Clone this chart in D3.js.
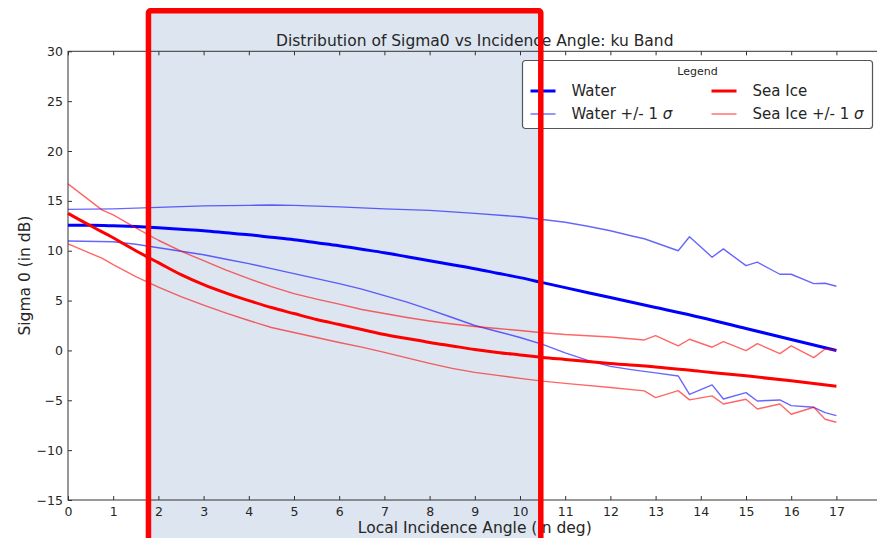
<!doctype html>
<html>
  <head>
    <meta charset="utf-8">
    <script src="https://d3js.org/d3.v7.min.js"></script>
    <style>
      body { margin: 0; background: #fff; }
      svg { display: block; font-family: "DejaVu Sans", sans-serif; }
      .tick text { fill: #262626; font-size: 12.5px; }
      .tick line { stroke: #333; }
    </style>
  </head>
  <body>
    <script>
    // values: [angle, sigma0]
    var waterMean = [[0,12.55],[0.5,12.55],[1,12.5],[1.5,12.42],[2,12.3],[2.5,12.15],[3,12.0],[3.5,11.8],[4,11.6],
      [4.5,11.35],[5,11.1],[5.5,10.8],[6,10.5],[6.5,10.15],[7,9.8],[7.5,9.4],[8,9.0],[8.5,8.6],[9,8.2],[9.5,7.75],
      [10,7.3],[10.5,6.8],[11,6.3],[12,5.3],[13,4.3],[14,3.3],[15,2.2],[16,1.1],[17,0.0]];
    var waterUpper = [[0,14.15],[1,14.2],[2,14.35],[3,14.5],[4,14.55],[4.5,14.58],[5,14.55],[6,14.4],[7,14.2],[8,14.05],
      [9,13.75],[10,13.4],[10.5,13.13],[11,12.85],[11.5,12.45],[12,12.0],[12.5,11.45],[12.75,11.2],[13,10.8],
      [13.5,10.0],[13.75,11.4],[14.25,9.35],[14.5,10.18],[15,8.5],[15.25,8.85],[15.75,7.64],[16,7.64],
      [16.5,6.7],[16.75,6.74],[17,6.44]];
    var waterLower = [[0,10.98],[1,10.9],[1.5,10.65],[2,10.3],[2.5,9.95],[3,9.6],[3.5,9.15],[4,8.7],[4.5,8.2],[5,7.7],
      [5.5,7.2],[6,6.7],[6.5,6.15],[7,5.5],[7.5,4.85],[8,4.1],[8.5,3.3],[9,2.5],[9.5,1.9],[10,1.3],[10.5,0.6],
      [11,-0.25],[11.5,-1.0],[12,-1.6],[12.5,-1.95],[13,-2.25],
      [13.5,-2.56],[13.75,-4.4],[14.25,-3.46],[14.5,-4.87],[15,-4.23],[15.25,-5.07],[15.75,-4.97],[16,-5.53],
      [16.5,-5.7],[16.75,-6.24],[17,-6.54]];
    var iceMean = [[0,13.75],[0.5,12.5],[1,11.3],[1.5,10.0],[2,8.8],[2.5,7.6],[3,6.6],[3.5,5.75],[4,5.0],[4.5,4.3],
      [5,3.7],[5.5,3.1],[6,2.6],[6.5,2.1],[7,1.6],[7.5,1.2],[8,0.8],[8.5,0.45],[9,0.1],[9.5,-0.2],[10,-0.45],
      [10.5,-0.7],[11,-0.9],[12,-1.3],[13,-1.65],[14,-2.1],[15,-2.55],[16,-3.05],[17,-3.6]];
    var iceUpper = [[0,16.7],[0.75,14.1],[1,13.6],[1.5,12.3],[2,11.05],[2.5,9.95],[3,9.0],[3.5,8.05],[4,7.2],[4.5,6.4],
      [5,5.7],[5.5,5.15],[6,4.65],[6.5,4.1],[7,3.7],[7.5,3.3],[8,2.95],[8.5,2.65],[9,2.4],[9.5,2.2],[10,2.0],
      [10.5,1.78],[11,1.6],[12,1.35],[12.75,1.05],[13,1.49],
      [13.5,0.45],[13.75,1.12],[14.25,0.32],[14.5,0.88],[15,-0.02],[15.25,0.68],[15.75,-0.32],[16,0.45],
      [16.5,-0.72],[16.75,0.15],[17,0.02]];
    var iceLower = [[0,10.68],[0.75,9.25],[1,8.6],[1.5,7.4],[2,6.35],[2.5,5.4],[3,4.55],[3.5,3.75],[4,3.0],[4.5,2.3],
      [5,1.8],[5.5,1.3],[6,0.8],[6.5,0.33],[7,-0.2],[7.5,-0.75],[8,-1.3],[8.5,-1.8],[9,-2.2],[9.5,-2.5],[10,-2.8],
      [10.5,-3.08],[11,-3.3],[12,-3.72],
      [12.75,-4.06],[13,-4.73],[13.5,-4.03],[13.75,-4.96],[14.25,-4.56],[14.5,-5.37],[15,-4.9],[15.25,-5.87],
      [15.75,-5.37],[16,-6.4],[16.5,-5.7],[16.75,-6.9],[17,-7.2]];

    var xTicks = d3.range(0, 18, 1);
    var yTicks = d3.range(-15, 31, 5);
    var legendLabels = ['Water', 'Sea Ice', 'Water +/- 1 ', 'Sea Ice +/- 1 '];
    var titleText = 'Distribution of Sigma0 vs Incidence Angle: ku Band';
    // highlighted box drawn over the plot, in data units
    var boxX = [1.78, 10.46];
    var boxY = [-20, 34.06];

    var width = 877;
    var height = 538;
    var margin = {top: 51.3, left: 68, bottom: 38};

    var svg = d3.select('body')
              .append('svg')
              .attr('width', width)
              .attr('height', height);

    var x = d3.scaleLinear().domain([0, 18]).range([margin.left, margin.left + 18 * 45.2]);
    var y = d3.scaleLinear().domain([-15, 30]).range([height - margin.bottom, margin.top]);

    //shaded box background
    svg.append('rect')
      .attr('x', x(boxX[0]))
      .attr('y', y(boxY[1]))
      .attr('width', x(boxX[1]) - x(boxX[0]))
      .attr('height', y(boxY[0]) - y(boxY[1]))
      .attr('fill', '#dde5f0');

    //axes
    svg.append('g')
      .attr('transform', 'translate(0,' + y(-15) + ')')
      .call(d3.axisBottom(x).tickValues(xTicks).tickSizeInner(-4).tickSizeOuter(0).tickPadding(7))
      .call(function(g) { g.select('.domain').remove(); });

    svg.append('g')
      .attr('transform', 'translate(0,' + y(30) + ')')
      .call(d3.axisTop(x).tickValues(xTicks).tickSizeInner(-4).tickSizeOuter(0).tickFormat(''))
      .call(function(g) { g.select('.domain').remove(); });

    svg.append('g')
      .attr('transform', 'translate(' + x(0) + ',0)')
      .call(d3.axisLeft(y).tickValues(yTicks).tickSizeInner(-4).tickSizeOuter(0).tickPadding(5))
      .call(function(g) { g.select('.domain').remove(); });

    svg.append('g')
      .attr('transform', 'translate(' + x(18) + ',0)')
      .call(d3.axisRight(y).tickValues(yTicks).tickSizeInner(-4).tickSizeOuter(0).tickFormat(''))
      .call(function(g) { g.select('.domain').remove(); });

    svg.selectAll('.tick text').attr('font-family', 'DejaVu Sans');

    //frame
    svg.append('rect')
      .attr('x', x(0))
      .attr('y', y(30))
      .attr('width', x(18) - x(0))
      .attr('height', y(-15) - y(30))
      .attr('fill', 'none')
      .attr('stroke', '#333')
      .attr('stroke-width', 1);

    //data lines (means are smooth, sigma lines keep their corners)
    var line = d3.line()
            .x(function(d) { return x(d[0]); })
            .y(function(d) { return y(d[1]); });

    var smoothLine = d3.line()
            .curve(d3.curveMonotoneX)
            .x(function(d) { return x(d[0]); })
            .y(function(d) { return y(d[1]); });

    var series = [
      {data: waterMean, color: '#0000ff', width: 3, opacity: 1, smooth: true},
      {data: waterUpper, color: '#0000ff', width: 1.4, opacity: 0.6},
      {data: waterLower, color: '#0000ff', width: 1.4, opacity: 0.6},
      {data: iceMean, color: '#ff0000', width: 3, opacity: 1, smooth: true},
      {data: iceUpper, color: '#ff0000', width: 1.4, opacity: 0.6},
      {data: iceLower, color: '#ff0000', width: 1.4, opacity: 0.6}
    ];

    svg.append('g')
      .selectAll('path')
      .data(series)
      .enter()
      .append('path')
      .attr('d', function(d) { return d.smooth ? smoothLine(d.data) : line(d.data); })
      .attr('fill', 'none')
      .attr('stroke', function(d) { return d.color; })
      .attr('stroke-width', function(d) { return d.width; })
      .attr('stroke-opacity', function(d) { return d.opacity; })
      .attr('stroke-linejoin', 'round');

    //title and axis labels
    svg.append('text')
      .attr('x', (x(0) + x(18)) / 2)
      .attr('y', 46)
      .attr('text-anchor', 'middle')
      .attr('fill', '#262626')
      .style('font-size', '15.5px')
      .text(titleText);

    svg.append('text')
      .attr('x', (x(0) + x(18)) / 2)
      .attr('y', 533)
      .attr('text-anchor', 'middle')
      .attr('fill', '#262626')
      .style('font-size', '15.5px')
      .text('Local Incidence Angle (in deg)');

    svg.append('text')
      .attr('transform', 'translate(30,' + (y(30) + y(-15)) / 2 + ') rotate(-90)')
      .attr('text-anchor', 'middle')
      .attr('fill', '#262626')
      .style('font-size', '15.5px')
      .text('Sigma 0 (in dB)');

    //legend
    var lg = svg.append('g').attr('transform', 'translate(522.5,60.5)');

    lg.append('rect')
      .attr('width', 350)
      .attr('height', 68)
      .attr('rx', 3)
      .attr('fill', '#fff')
      .attr('stroke', '#555')
      .attr('stroke-width', 1.2);

    lg.append('text')
      .attr('x', 175)
      .attr('y', 14.5)
      .attr('text-anchor', 'middle')
      .attr('fill', '#262626')
      .style('font-size', '11px')
      .text('Legend');

    var legendItems = [
      {label: legendLabels[0], color: '#0000ff', width: 3, opacity: 1, col: 0, row: 0, sigma: false},
      {label: legendLabels[1], color: '#ff0000', width: 3, opacity: 1, col: 1, row: 0, sigma: false},
      {label: legendLabels[2], color: '#0000ff', width: 1.4, opacity: 0.6, col: 0, row: 1, sigma: true},
      {label: legendLabels[3], color: '#ff0000', width: 1.4, opacity: 0.6, col: 1, row: 1, sigma: true}
    ];

    var items = lg.selectAll('.item')
      .data(legendItems)
      .enter()
      .append('g')
      .attr('class', 'item')
      .attr('transform', function(d) { return 'translate(' + (8 + d.col * 181) + ',' + (30.5 + d.row * 23) + ')'; });

    items.append('line')
      .attr('x1', 0)
      .attr('x2', 25)
      .attr('stroke', function(d) { return d.color; })
      .attr('stroke-width', function(d) { return d.width; })
      .attr('stroke-opacity', function(d) { return d.opacity; });

    var labels = items.append('text')
      .attr('x', 41)
      .attr('dy', '0.36em')
      .attr('fill', '#262626')
      .style('font-size', '15px')
      .text(function(d) { return d.label; });

    labels.filter(function(d) { return d.sigma; })
      .append('tspan')
      .style('font-style', 'italic')
      .text('σ');

    //red outline on top
    svg.append('rect')
      .attr('x', x(boxX[0]))
      .attr('y', y(boxY[1]))
      .attr('width', x(boxX[1]) - x(boxX[0]))
      .attr('height', y(boxY[0]) - y(boxY[1]))
      .attr('rx', 2)
      .attr('fill', 'none')
      .attr('stroke', '#ff0000')
      .attr('stroke-width', 5.5);
    </script>
  </body>
</html>
